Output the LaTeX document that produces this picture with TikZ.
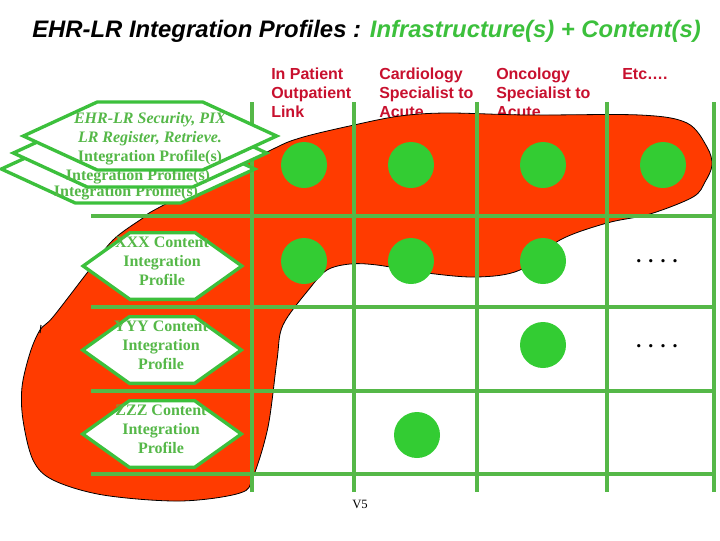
\documentclass[tikz,border=0pt]{standalone}
\usepackage{fontspec}
\setmainfont{Liberation Serif}
\setsansfont{Liberation Sans}
\usetikzlibrary{shapes.symbols,positioning}
\definecolor{gridgreen}{HTML}{55B848}
\definecolor{dotgreen}{HTML}{33CC33}
\definecolor{hexgreen}{HTML}{3CC03C}
\definecolor{blobred}{HTML}{FF3B00}
\definecolor{headred}{HTML}{C8102E}
\tikzset{
  gridline/.style={gridgreen, line width=2.3pt},
  dotnode/.style={circle, fill=dotgreen, minimum size=34.5pt, inner sep=0pt},
  hexbox/.style={signal, signal to=east and west, draw=hexgreen, fill=white, line width=2.5pt, inner sep=0pt, outer sep=0pt, signal pointer angle=71, minimum width=119pt, minimum height=50pt},
  widehex/.style={hexbox, signal pointer angle=49.4, minimum width=190pt, minimum height=51pt},
  hextext/.style={text=gridgreen, font=\bfseries\fontsize{12}{14.25}\selectfont, align=center, inner sep=0pt},
  headtext/.style={text=headred, font=\sffamily\bfseries\fontsize{12}{14.25}\selectfont, align=left, anchor=north west, inner sep=0pt},
  moredots/.style={font=\bfseries\fontsize{15}{16}\selectfont, inner sep=0pt}
}
\begin{document}
\begin{tikzpicture}[x=0.75pt, y=-0.75pt]
  \useasboundingbox (0,0) rectangle (720,540);

  \node (title) [anchor=west, inner sep=0pt, font=\sffamily\bfseries\itshape\fontsize{17.9}{20}\selectfont] at (32,31) {EHR-LR Integration Profiles : \textcolor{hexgreen}{Infrastructure(s) + Content(s)}};

  % column heads
  \node (inpatient) [headtext] at (271,67.5) {In Patient\\Outpatient\\Link};
  \node (cardio) [headtext] at (379,67.5) {Cardiology\\Specialist to\\Acute};
  \node (onco) [headtext] at (496,67.2) {Oncology\\Specialist to\\Acute};
  \node (etc) [headtext] at (622,68.5) {Etc….};

  % red area
  \draw [fill=blobred, draw=black, line width=0.6pt] plot [smooth cycle, tension=0.55] coordinates {
    (354,125) (400,116) (447,113) (527,115) (640,115) (687,123) (707,147) (712,165) (705,182) (693,197)
    (650,214) (607,223) (560,240) (520,270) (477,277) (427,273) (377,265) (350,264)
    (327,270) (310,288) (283,325) (277,360) (268,427) (253,477) (240,493) (180,501)
    (103,495) (53,480) (33,460) (23,420) (22,387) (30,353) (40,330) (53,317)
    (87,273) (113,240) (143,218) (160,207) (267,152) (300,138)};
  \draw [black, line width=0.8pt] (41,325) -- (40,333);

  % grid
  \foreach \gx in {252,354,477,607,714}
    \draw [gridline] (\gx,102) -- (\gx,492);
  \foreach \gy in {216,307,391,474}
    \draw [gridline] (91,\gy) -- (714,\gy);

  % dots
  \foreach \dname/\dpos in {aa/{304,165}, ab/{411,165}, ac/{543,165}, ad/{663,165}, ba/{304,261}, bb/{411,261}, bc/{543,261}, cc/{543,345}, db/{417,435}}
    \node (\dname) [dotnode] at (\dpos) {};

  \node (morexxx) [moredots] at (657,261) {.\hspace{5.3pt}.\hspace{5.3pt}.\hspace{5.3pt}.};
  \node (moreyyy) [moredots] at (657,346) {.\hspace{5.3pt}.\hspace{5.3pt}.\hspace{5.3pt}.};

  % infrastructure profiles, back to front
  \node (infrac) [widehex] at (128,169) {};
  \node (infractext) [hextext] at (126,193) {Integration Profile(s)};
  \node (infrab) [widehex] at (140,153) {};
  \node (infrabtext) [hextext] at (138,177) {Integration Profile(s)};
  \node (infraa) [widehex] at (150,136) {};
  \node (infraatext) [hextext] at (150,139) {\itshape EHR-LR Security, PIX\\\itshape LR Register, Retrieve.\\Integration Profile(s)};

  % content profiles
  \node (xxx) [hexbox] at (162.5,266) {};
  \node (xxxtext) [hextext] at (162,261) {XXX Content\\Integration\\Profile};
  \node (yyy) [hexbox] at (162,350) {};
  \node (yyytext) [hextext] at (161,345) {YYY Content\\Integration\\Profile};
  \node (zzz) [hexbox] at (162,434) {};
  \node (zzztext) [hextext] at (161,429) {ZZZ Content\\Integration\\Profile};

  \node (version) [inner sep=0pt, font=\fontsize{9.5}{11}\selectfont] at (360,504) {V5};
\end{tikzpicture}
\end{document}
